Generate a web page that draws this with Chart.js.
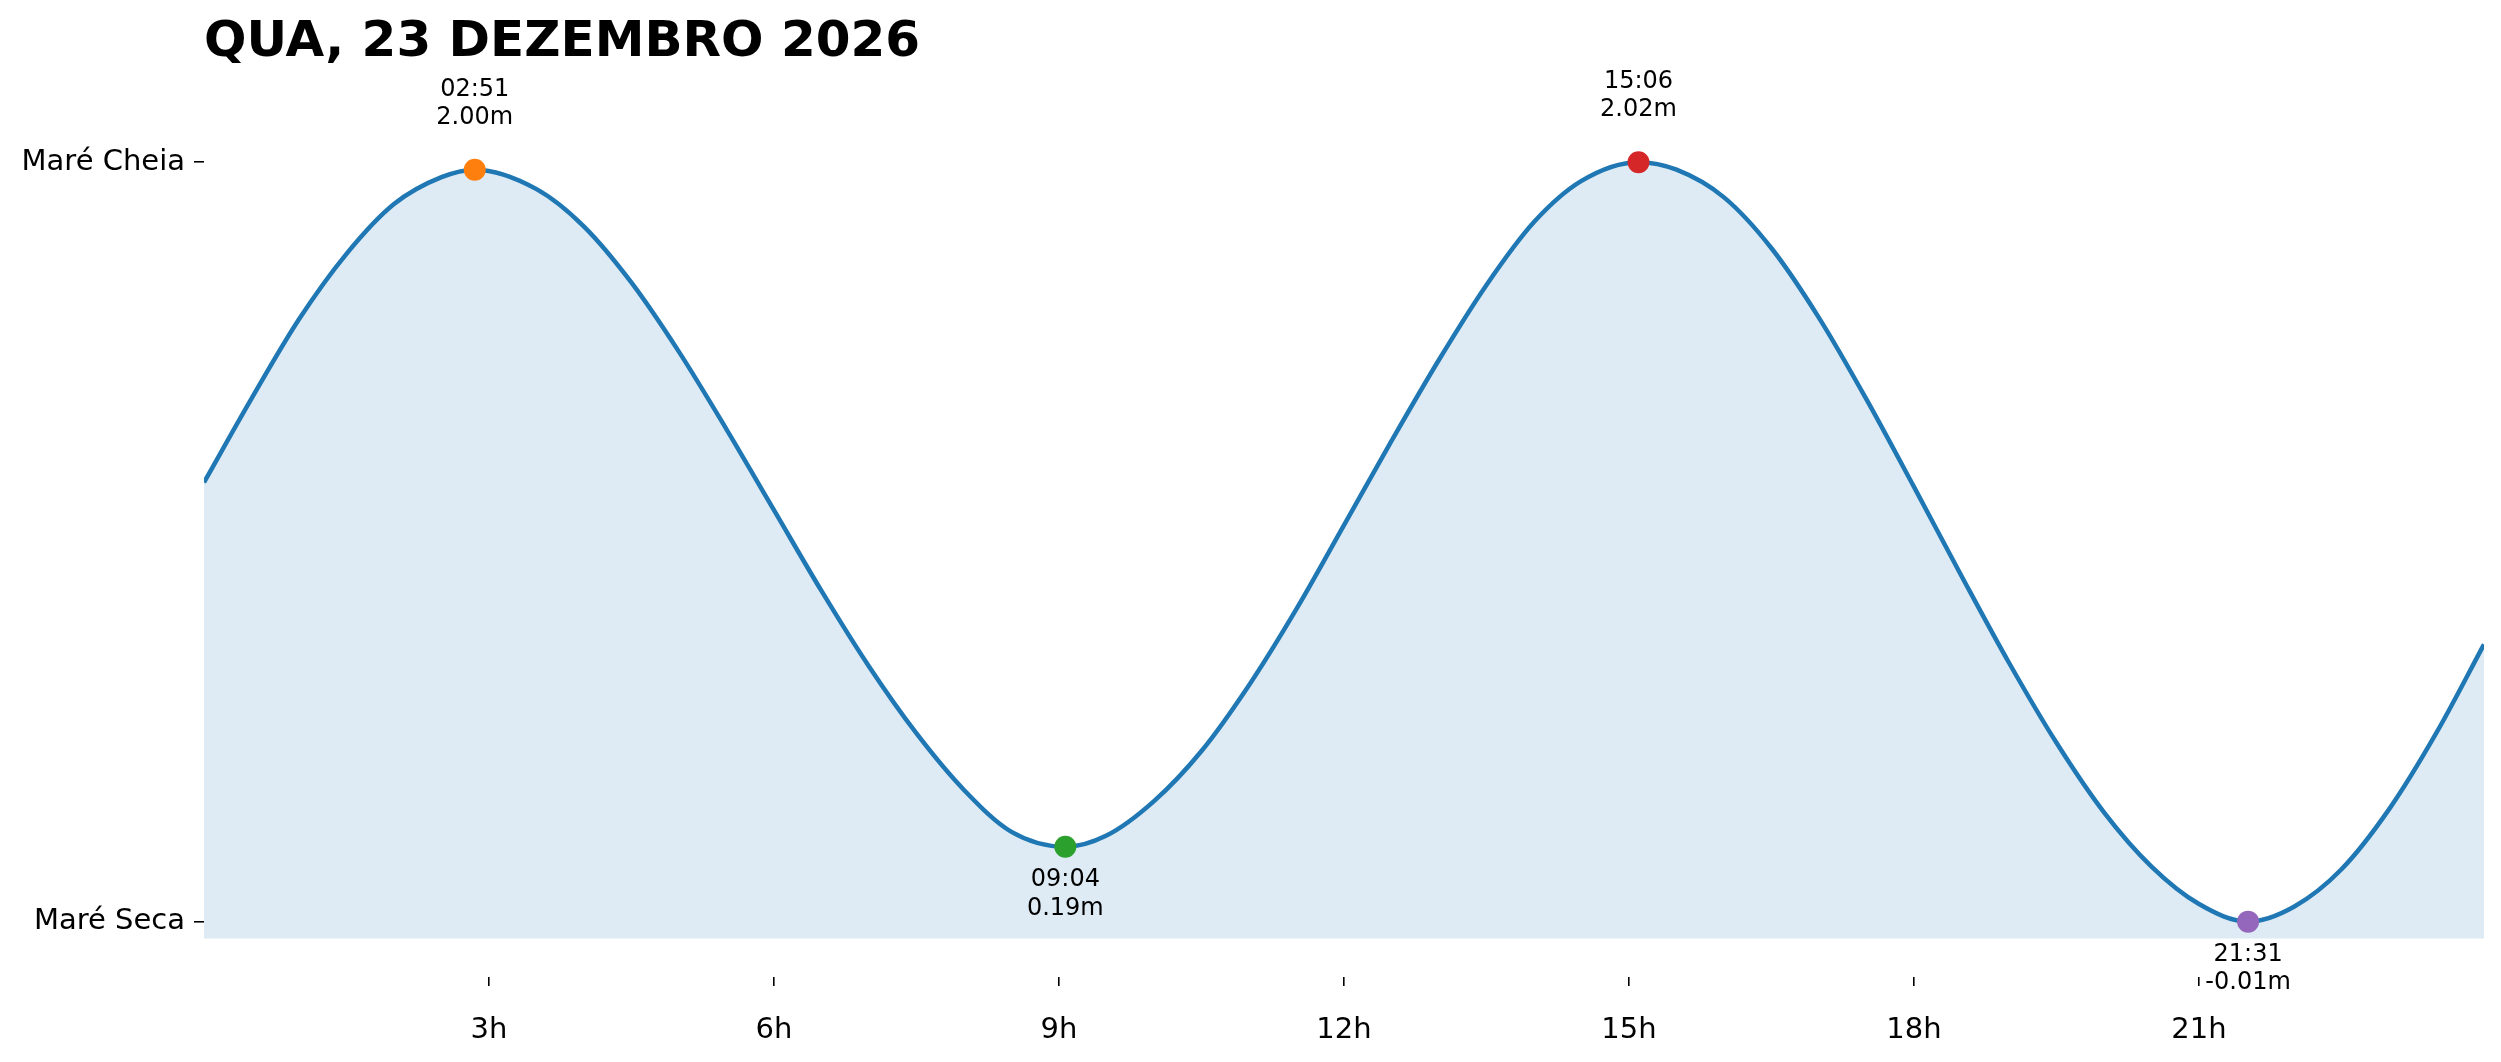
<!DOCTYPE html>
<html>
<head>
<meta charset="utf-8">
<script src="https://cdn.jsdelivr.net/npm/chart.js@4"></script>
<style>
  html, body { margin: 0; padding: 0; background: #fff; }
</style>
</head>
<body>
<canvas id="tide-graph" width="2501" height="1062"></canvas>
<script>
// tide heights every half hour (m), skipping the slots right next to an extreme
const curveHours = [0, 0.5, 1, 1.5, 2, 2.5, 3.5, 4, 4.5, 5, 5.5, 6, 6.5, 7, 7.5, 8, 8.5,
                    9.5, 10, 10.5, 11, 11.5, 12, 12.5, 13, 13.5, 14, 14.5,
                    15.5, 16, 16.5, 17, 17.5, 18, 18.5, 19, 19.5, 20, 20.5, 21,
                    22, 22.5, 23, 23.5, 24];
const curveHeights = [1.164, 1.388, 1.600, 1.775, 1.908, 1.980, 1.948, 1.848, 1.698, 1.513, 1.306, 1.090, 0.874, 0.672, 0.493, 0.342, 0.230,
                      0.220, 0.312, 0.446, 0.622, 0.826, 1.050, 1.275, 1.492, 1.692, 1.860, 1.970,
                      2.000, 1.926, 1.790, 1.604, 1.386, 1.152, 0.914, 0.682, 0.468, 0.282, 0.137, 0.037,
                      0.030, 0.130, 0.290, 0.495, 0.731];

// high / low water
const eventTimes = ['02:51', '09:04', '15:06', '21:31'];
const eventHeights = [2.00, 0.19, 2.02, -0.01];
const eventTypes = ['high', 'low', 'high', 'low'];
const eventColors = ['#ff7f0e', '#2ca02c', '#d62728', '#9467bd'];

const xTickHours = [3, 6, 9, 12, 15, 18, 21];
const yTickLabels = ['Maré Seca', 'Maré Cheia'];
const chartTitle = 'QUA, 23 DEZEMBRO 2026';

const toHours = t => { const p = t.split(':'); return +p[0] + (+p[1]) / 60; };
const eventHours = eventTimes.map(toHours);

// merge the extremes into the curve so the line goes through the dots
let curve = curveHours.map((h, i) => ({x: h, y: curveHeights[i]}));
eventHours.forEach((h, i) => curve.push({x: h, y: eventHeights[i]}));
curve.sort((a, b) => a.x - b.x);

const lowest = Math.min(...eventHeights);
const highest = Math.max(...eventHeights);
const fillBase = lowest - 0.045;

const eventLabels = {
    id: 'eventLabels',
    afterDatasetsDraw(chart) {
        const ctx = chart.ctx;
        const xs = chart.scales.x, ys = chart.scales.y;
        ctx.save();
        ctx.font = '24px "DejaVu Sans"';
        ctx.fillStyle = '#000';
        ctx.textAlign = 'center';
        ctx.textBaseline = 'middle';
        eventHours.forEach((h, i) => {
            const px = xs.getPixelForValue(h);
            const py = ys.getPixelForValue(eventHeights[i]);
            const txt = eventHeights[i].toFixed(2) + 'm';
            if (eventTypes[i] === 'high') {
                ctx.fillText(eventTimes[i], px, py - 80);
                ctx.fillText(txt, px, py - 52);
            } else {
                ctx.fillText(eventTimes[i], px, py + 33);
                ctx.fillText(txt, px, py + 61.5);
            }
        });
        ctx.restore();
    }
};

const tickFont = {family: 'DejaVu Sans', size: 29};

let tideChart = new Chart(document.getElementById('tide-graph').getContext('2d'), {
    type: 'line',
    data: {
        datasets: [{
            data: eventHours.map((h, i) => ({x: h, y: eventHeights[i]})),
            showLine: false,
            pointRadius: 11,
            pointBorderWidth: 0,
            pointBackgroundColor: eventColors,
            order: 0
        }, {
            data: curve,
            borderColor: '#1f77b4',
            borderWidth: 4.5,
            cubicInterpolationMode: 'monotone',
            pointRadius: 0,
            fill: {value: fillBase},
            backgroundColor: 'rgba(31,119,180,0.15)',
            order: 1
        }]
    },
    options: {
        responsive: false,
        devicePixelRatio: 1,
        animation: false,
        layout: {padding: {left: 0, right: 17, top: 0, bottom: 0}},
        plugins: {
            legend: {display: false},
            tooltip: {enabled: false},
            title: {
                display: true,
                text: chartTitle,
                align: 'start',
                fullSize: false,
                color: '#000',
                font: {family: 'DejaVu Sans', size: 50, weight: 'bold'},
                padding: {top: 13, bottom: 16}
            }
        },
        scales: {
            x: {
                type: 'linear',
                min: 0,
                max: 24,
                afterBuildTicks: s => { s.ticks = xTickHours.map(v => ({value: v})); },
                afterFit: s => { s.height = 85; },
                ticks: {
                    callback: v => v + 'h',
                    color: '#000',
                    font: tickFont,
                    padding: 27,
                    maxRotation: 0
                },
                grid: {drawOnChartArea: false, drawTicks: true, tickLength: 9, color: '#000', lineWidth: 1.6},
                border: {display: false}
            },
            y: {
                min: -0.158,
                max: 2.2157,
                afterBuildTicks: s => { s.ticks = [{value: lowest}, {value: highest}]; },
                afterFit: s => { s.width = 204; },
                ticks: {
                    callback: v => (v === lowest ? yTickLabels[0] : yTickLabels[1]),
                    color: '#000',
                    font: tickFont,
                    padding: 9
                },
                grid: {drawOnChartArea: false, drawTicks: true, tickLength: 10, color: '#000', lineWidth: 1.6},
                border: {display: false}
            }
        }
    },
    plugins: [eventLabels]
});
</script>
</body>
</html>
